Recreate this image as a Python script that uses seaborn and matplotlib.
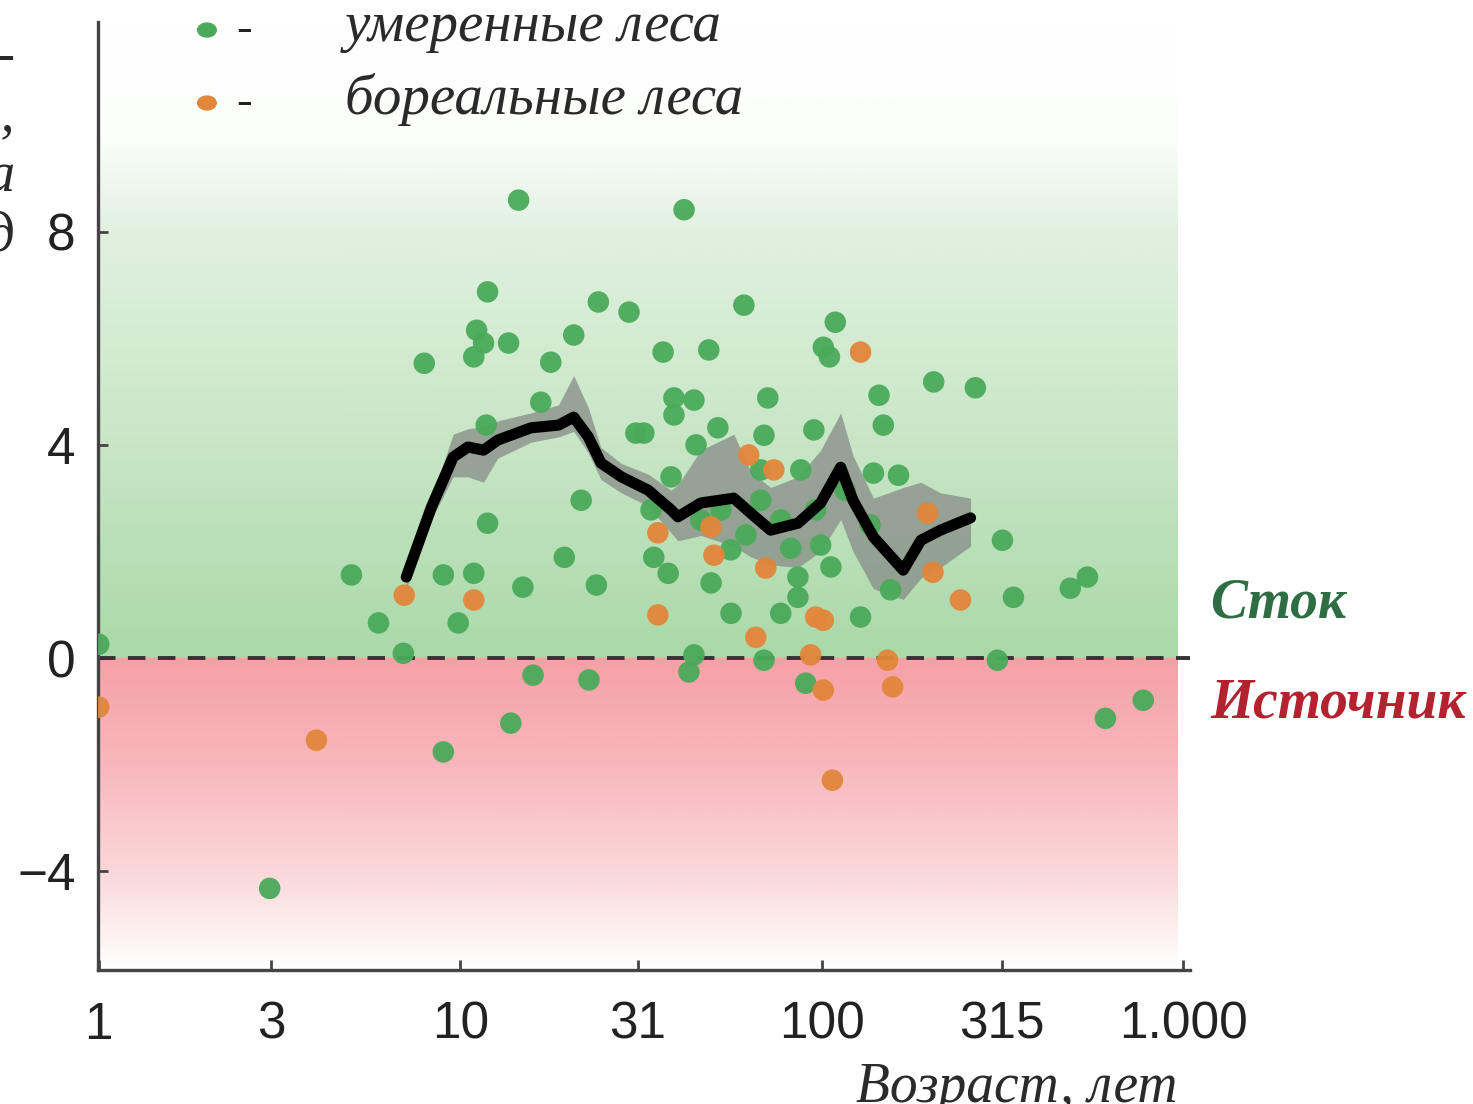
import numpy as np
import pandas as pd
import matplotlib
matplotlib.use("Agg")
import matplotlib.pyplot as plt
import seaborn as sns

# stand age (years) and net ecosystem production for each site
temperate_age = [1.0, 2.97, 5.0, 5.94, 6.96, 7.95, 8.98, 9.87, 8.98, 10.9,
                 11.9, 11.1, 11.6, 10.9, 13.6, 11.9, 11.8, 14.5, 14.9, 15.9,
                 13.8, 17.8, 16.7, 19.4, 21.6, 20.6, 24.1, 29.3, 23.8, 22.7,
                 30.6, 36.4, 41.6, 48.7, 39.0, 44.3, 39.0, 60.9, 70.9, 44.9,
                 51.6, 69.2, 95.1, 109, 101, 105, 144, 148, 204, 266,
                 32.2, 38.3, 87.5, 139, 163, 34.3, 37.6, 49.4, 56.1, 77.0,
                 85.9, 85.9, 106, 316, 339, 128, 44.3, 42.9, 69.2, 90.3,
                 306, 487, 543, 609, 775, 67.8, 77.1, 96.2, 116, 52.6,
                 61.7, 46.3, 136, 99.3, 82.1, 56.0, 155, 67.8, 33.7]
temperate_nep = [0.26, -4.32, 1.56, 0.66, 0.09, 5.53, 1.56, 0.66, -1.76, 1.59,
                 6.87, 6.15, 5.91, 5.65, 5.91, 2.53, 4.37, 8.59, 1.33, -0.32,
                 -1.22, 5.55, 4.80, 1.89, 2.96, 6.06, 6.68, 6.49, 1.37, -0.41,
                 4.22, 5.74, 8.41, 5.78, 4.88, 4.84, 4.56, 6.62, 4.88, 4.00,
                 4.32, 4.18, 4.28, 6.30, 5.83, 5.65, 4.93, 4.37, 5.18, 5.07,
                 4.22, 3.40, 3.53, 3.47, 3.43, 1.89, 1.59, 1.41, 0.84, 0.84,
                 1.52, 1.14, 1.71, 2.21, 1.14, 0.77, 0.06, -0.26, -0.04, -0.47,
                 -0.04, 1.31, 1.52, -1.13, -0.79, 2.96, 2.59, 2.78, 3.15, 2.78,
                 2.31, 2.59, 2.50, 2.12, 2.06, 2.03, 1.28, 3.53, 2.78]

boreal_age = [1.0, 4.0, 7.0, 10.9, 128, 62.8, 73.7, 35.2, 49.4, 50.3, 196, 70.0,
              35.2, 96.2, 101, 65.7, 93.2, 101, 107, 152, 157, 203, 242]
boreal_nep = [-0.92, -1.54, 1.18, 1.09, 5.74, 3.81, 3.53, 2.35, 2.46, 1.93, 2.72, 1.69,
              0.81, 0.77, 0.71, 0.39, 0.06, -0.60, -2.29, -0.04, -0.54, 1.61, 1.09]

# running mean with its uncertainty band
ma_age = [7.09, 8.32, 9.56, 10.5, 11.6, 12.7, 15.7, 18.7, 20.6, 22.6,
          24.5, 27.9, 33.1, 38.3, 40.0, 46.3, 57.1, 63.6, 72.2, 85.9,
          99.3, 112.8, 122, 139, 168, 188, 213, 258]
ma_mean = [1.52, 2.83, 3.77, 3.96, 3.90, 4.09, 4.32, 4.37, 4.52, 4.15,
           3.66, 3.40, 3.15, 2.78, 2.65, 2.91, 3.00, 2.72, 2.40, 2.53,
           2.91, 3.58, 2.96, 2.27, 1.65, 2.21, 2.40, 2.63]
ma_lo = [1.3, 2.6, 3.4, 3.4, 3.3, 3.75, 4.05, 4.15, 4.25, 3.85,
         3.35, 3.1, 2.85, 2.35, 2.2, 2.3, 2.1, 1.9, 1.75, 1.7,
         2.0, 2.6, 2.0, 1.3, 1.1, 1.5, 1.7, 2.1]
ma_hi = [1.7, 3.0, 4.2, 4.3, 4.35, 4.45, 4.6, 4.75, 5.3, 4.7,
         3.95, 3.65, 3.45, 3.15, 3.25, 3.9, 4.2, 3.5, 3.2, 3.4,
         3.9, 4.6, 3.8, 3.0, 3.2, 3.3, 3.1, 3.0]

x_ticks = [1, 3, 10, 31, 100, 315, 1000]
x_tick_labels = ["1", "3", "10", "31", "100", "315", "1.000"]
y_ticks = [-4, 0, 4, 8]
y_tick_labels = ["\u22124", "0", "4", "8"]

GREEN = "#4aaa5a"
ORANGE = "#e2863a"

sns.set_style("ticks")
plt.rcParams["font.family"] = ["Liberation Sans", "DejaVu Sans"]

df = pd.DataFrame({
    "age": temperate_age + boreal_age,
    "nep": temperate_nep + boreal_nep,
    "forest": ["temperate"] * len(temperate_age) + ["boreal"] * len(boreal_age),
})
ma = pd.DataFrame({"age": ma_age, "mean": ma_mean, "lo": ma_lo, "hi": ma_hi})

fig = plt.figure(figsize=(14.73, 11.04), dpi=100)
ax = fig.add_axes([0.0665, 0.1214, 0.7415, 0.8586])

ylo, yhi = -5.85, 11.93
xlo, xhi = 0.995, 1045

# vertical green / red background gradient
stops_v = [ylo, -5.5, -4.0, -2.0, -0.001, 0.0, 4.0, 8.0, 9.8, yhi]
stops_c = np.array([
    [255, 255, 255], [254, 248, 248], [251, 215, 217], [248, 183, 188],
    [246, 160, 167], [170, 217, 168], [200, 230, 198], [225, 241, 224],
    [252, 254, 252], [255, 255, 255]]) / 255.0
yy = np.linspace(ylo, yhi, 800)
grad = np.stack([np.interp(yy, stops_v, stops_c[:, i]) for i in range(3)], axis=-1)
grad = grad[:, None, :]
ax.imshow(grad, extent=(xlo, 969, ylo, yhi), origin="lower", aspect="auto",
          interpolation="bilinear", zorder=0)

ax.set_xscale("log")

ax.fill_between(ma["age"], ma["lo"], ma["hi"], color="#878c87", alpha=0.75,
                linewidth=0, zorder=2)

sns.scatterplot(data=df, x="age", y="nep", hue="forest",
                palette={"temperate": GREEN, "boreal": ORANGE},
                s=240, linewidth=0, alpha=0.95, legend=False, zorder=3, ax=ax)

sns.lineplot(data=ma, x="age", y="mean", sort=False, color="black",
             linewidth=8, zorder=4, ax=ax)

ax.axhline(0, color="#333333", linewidth=2.8, dashes=(4.5, 3.2), zorder=2.5)

ax.set_xlim(xlo, xhi)
ax.set_ylim(ylo, yhi)
ax.set_xticks(x_ticks)
ax.set_xticklabels(x_tick_labels)
ax.minorticks_off()
ax.set_yticks(y_ticks)
ax.set_yticklabels(y_tick_labels)
ax.set_xlabel("")
ax.set_ylabel("")
ax.tick_params(axis="both", direction="in", length=7, width=2, color="#444444",
               labelsize=37, labelcolor="#222222")
ax.tick_params(axis="x", pad=22)
ax.tick_params(axis="y", pad=16)

for side in ["top", "right"]:
    ax.spines[side].set_visible(False)
for side in ["left", "bottom"]:
    ax.spines[side].set_linewidth(2.4)
    ax.spines[side].set_color("#444444")
ax.patch.set_alpha(0)

serif = ["Liberation Serif", "DejaVu Serif"]

# legend drawn by hand: dot, dash, label
for yf, col, label in [(0.9728, GREEN, "умеренные леса"),
                       (0.9067, ORANGE, "бореальные леса")]:
    fig.patches.append(plt.Circle((0.1405, yf), 0.0063, color=col,
                                  transform=fig.transFigure, figure=fig))
    fig.text(0.166, yf, "-", fontsize=34, family=serif, color="#222222",
             ha="center", va="center")
    fig.text(0.234, yf + 0.003, label, fontsize=41, family=serif,
             style="italic", color="#2a2a2a", ha="left", va="center")

fig.text(0.8215, 0.4538, "Сток", fontsize=40, family=serif, style="italic",
         weight="bold", color="#2f6e45", ha="left", va="center")
fig.text(0.8215, 0.3632, "Источник", fontsize=40, family=serif, style="italic",
         weight="bold", color="#b3222e", ha="left", va="center")

# axis titles, partly cut off by the image border as in the original crop
fig.text(0.010, 0.972, "Чистая экосистем-\nная продукция,\nт углерода с га\nв год",
         fontsize=40, family=serif, style="italic", color="#2a2a2a",
         ha="right", va="top", multialignment="right", linespacing=1.2)
fig.text(0.690, 0.038, "Возраст, лет", fontsize=40, family=serif,
         style="italic", color="#2a2a2a", ha="center", va="top")

fig.savefig("out.png", dpi=100)
